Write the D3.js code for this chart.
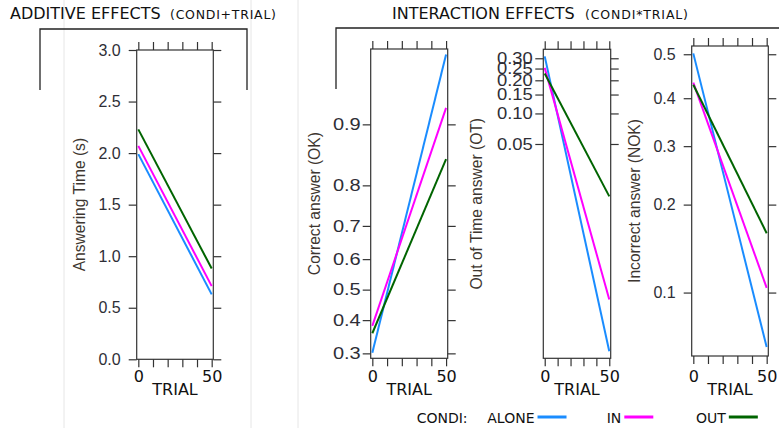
<!DOCTYPE html>
<html>
<head>
<meta charset="utf-8">
<script src="https://cdn.jsdelivr.net/npm/d3@7"></script>
<style>
  body { margin: 0; background: #fff; }
  svg { display: block; }
</style>
</head>
<body>
<div id="chart"></div>
<script>
// effects at TRIAL = 0 and TRIAL = 50, one pair per CONDI level
const trials = [0, 50];
const conditions = ["ALONE", "IN", "OUT"];
const colors = ["#1a8cff", "#ff00ff", "#006400"];

const timeValues = [[1.99, 0.63], [2.07, 0.71], [2.23, 0.88]];
const okValues   = [[0.302, 0.958], [0.382, 0.918], [0.359, 0.85]];
const otValues   = [[0.31, 0.00033], [0.253, 0.00117], [0.228, 0.0144]];
const nokValues  = [[0.502, 0.063], [0.435, 0.104], [0.43, 0.161]];

const timeTicks = [0, 0.5, 1, 1.5, 2, 2.5, 3];
const okTicks   = [0.3, 0.4, 0.5, 0.6, 0.7, 0.8, 0.9];
const otTicks   = [0.05, 0.1, 0.15, 0.2, 0.25, 0.3];
const nokTicks  = [0.1, 0.2, 0.3, 0.4, 0.5];
const trialTicks  = [0, 10, 20, 30, 40, 50];
const trialLabels = [0, 50];

const W = 779, H = 428;
const ink = "#333";
const logit = p => Math.log(p / (1 - p));

// each panel was pasted at its own size, so keep its own box
const panels = [
  {label: "Answering Time (s)", values: timeValues, ticks: timeTicks, fmt: ".1f", logit: false,
   lim: [0, 3], left: 136.7, right: 213.3, top: 50, bottom: 359.3, labelX: 80, pad: 8, sx: 1},
  {label: "Correct answer (OK)", values: okValues, ticks: okTicks, fmt: ".1f", logit: true,
   lim: [0.2864, 0.9608], left: 370.7, right: 447.7, top: 49, bottom: 358.3, labelX: 315, pad: 2, sx: 1.25},
  {label: "Out of Time answer (OT)", values: otValues, ticks: otTicks, fmt: ".2f", logit: true,
   lim: [0.000278, 0.348], left: 543.3, right: 610.7, top: 49.3, bottom: 358.3, labelX: 477, pad: 2.5, sx: 1.15},
  {label: "Incorrect answer (NOK)", values: nokValues, ticks: nokTicks, fmt: ".1f", logit: true,
   lim: [0.0583, 0.519], left: 691.7, right: 768.3, top: 46, bottom: 356, labelX: 635, pad: 8, sx: 1}
];

const svg = d3.select("#chart").append("svg")
    .attr("width", W)
    .attr("height", H);

// faint slide guides
svg.selectAll("line.guide")
  .data([64, 251, 298])
  .enter().append("line")
    .attr("x1", d => d).attr("x2", d => d)
    .attr("y1", 0).attr("y2", H)
    .attr("stroke", "#e6e6e6")
    .attr("stroke-width", 1);

// headers and brackets
svg.append("path")
    .attr("d", "M40,90V29H247V90")
    .attr("fill", "none").attr("stroke", "#222").attr("stroke-width", 1.3);
svg.append("path")
    .attr("d", "M336,89V28H779")
    .attr("fill", "none").attr("stroke", "#222").attr("stroke-width", 1.3);

const titles = [
  {text: "ADDITIVE EFFECTS", x: 10, size: 16},
  {text: "(CONDI+TRIAL)", x: 170, size: 12.5, len: 106},
  {text: "INTERACTION EFFECTS", x: 392, size: 16},
  {text: "(CONDI*TRIAL)", x: 585, size: 12.5, len: 103}
];
titles.forEach(t => {
  const el = svg.append("text")
      .attr("x", t.x).attr("y", 19)
      .attr("font-family", "DejaVu Sans")
      .attr("font-size", t.size)
      .attr("fill", "#111")
      .text(t.text);
  if (t.len) el.attr("textLength", t.len).attr("lengthAdjust", "spacing");
});

panels.forEach(p => {
  const x = d3.scaleLinear().domain([-1.1, 51.1]).range([p.left, p.right]);
  const tf = p.logit ? logit : (v => v);
  const yLin = d3.scaleLinear().domain(p.lim.map(tf)).range([p.bottom, p.top]);
  const y = v => yLin(tf(v));

  const g = svg.append("g");

  // y axis on the left with labels
  const left = g.append("g")
      .attr("transform", `translate(${p.left},0)`)
      .call(d3.axisLeft(yLin)
        .tickValues(p.ticks.map(tf))
        .tickSize(8)
        .tickPadding(p.pad)
        .tickFormat((d, i) => d3.format(p.fmt)(p.ticks[i])));
  left.select(".domain").remove();
  left.selectAll("text")
      .attr("x", -(8 + p.pad) / p.sx)
      .attr("transform", `scale(${p.sx},1)`)
      .attr("font-family", "Liberation Sans")
      .attr("font-size", 16)
      .attr("fill", "#2e2e36");

  // right axis, ticks only
  const right = g.append("g")
      .attr("transform", `translate(${p.right},0)`)
      .call(d3.axisRight(yLin).tickValues(p.ticks.map(tf)).tickSize(8).tickFormat(""));
  right.select(".domain").remove();

  // top axis, ticks only
  const topAx = g.append("g")
      .attr("transform", `translate(0,${p.top})`)
      .call(d3.axisTop(x).tickValues(trialTicks).tickSize(8).tickFormat(""));
  topAx.select(".domain").remove();

  // bottom axis
  const bot = g.append("g")
      .attr("transform", `translate(0,${p.bottom})`)
      .call(d3.axisBottom(x).tickValues(trialTicks).tickSize(8)
        .tickFormat(d => trialLabels.includes(d) ? d : ""));
  bot.select(".domain").remove();
  bot.selectAll("text")
      .attr("y", 0).attr("dy", 0)
      .attr("transform", `translate(0,${381.7 - p.bottom})`)
      .attr("font-family", "DejaVu Sans")
      .attr("font-size", 16)
      .attr("fill", "#111");

  g.selectAll(".tick line").attr("stroke", ink).attr("stroke-width", 1.2);

  // plot box
  g.append("rect")
      .attr("x", p.left).attr("y", p.top)
      .attr("width", p.right - p.left).attr("height", p.bottom - p.top)
      .attr("fill", "none").attr("stroke", ink).attr("stroke-width", 1.2);

  // effect lines
  const line = d3.line()
      .x((d, i) => x(trials[i]))
      .y(d => y(d));
  g.selectAll("path.effect")
    .data(p.values)
    .enter().append("path")
      .attr("class", "effect")
      .attr("d", line)
      .attr("fill", "none")
      .attr("stroke", (d, i) => colors[i])
      .attr("stroke-width", 2);

  // axis titles
  g.append("text")
      .attr("transform", `translate(${p.labelX},${(p.top + p.bottom) / 2}) rotate(-90)`)
      .attr("text-anchor", "middle")
      .attr("dy", "0.35em")
      .attr("font-family", "Liberation Sans")
      .attr("font-size", 15.6)
      .attr("fill", "#3d3630")
      .text(p.label);

  g.append("text")
      .attr("x", (p.left + p.right) / 2).attr("y", 395)
      .attr("text-anchor", "middle")
      .attr("font-family", "DejaVu Sans")
      .attr("font-size", 16)
      .attr("fill", "#111")
      .text("TRIAL");
});

// legend
const legend = svg.append("g").attr("font-family", "DejaVu Sans").attr("font-size", 14).attr("fill", "#111");
legend.append("text").attr("x", 416.7).attr("y", 422.7).text("CONDI:");
const legendX = [487.3, 606.7, 696];
conditions.forEach((c, i) => {
  const t = legend.append("text").attr("x", legendX[i]).attr("y", 422.7).text(c);
  const end = legendX[i] + t.node().getComputedTextLength() + 3;
  legend.append("line")
      .attr("x1", end).attr("x2", end + 29)
      .attr("y1", 417).attr("y2", 417)
      .attr("stroke", colors[i])
      .attr("stroke-width", 3);
});
</script>
</body>
</html>
